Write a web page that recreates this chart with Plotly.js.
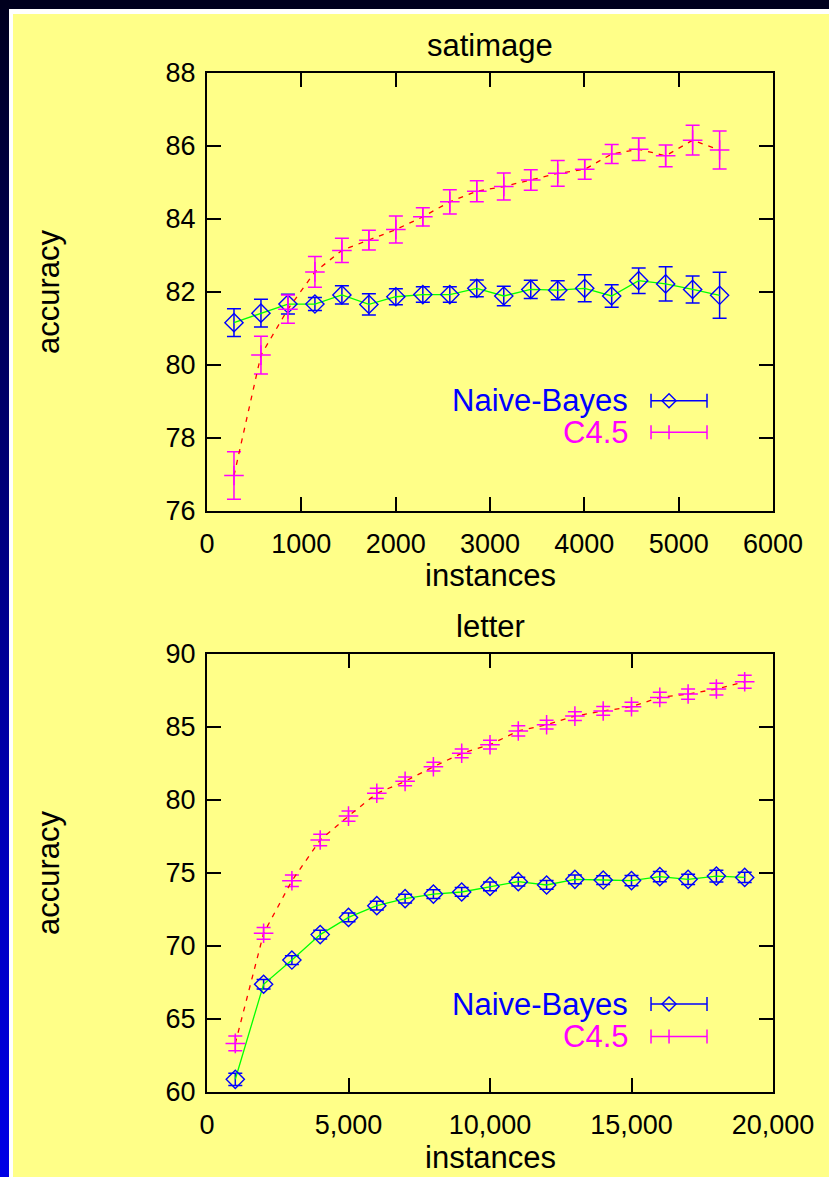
<!DOCTYPE html>
<html>
<head>
<meta charset="utf-8">
<script src="https://cdn.plot.ly/plotly-3.0.1.min.js"></script>
<style>
  html, body { margin:0; padding:0; width:829px; height:1177px; overflow:hidden; background:#000028; }
  #bg { position:absolute; left:0; top:0; width:829px; height:1177px;
        background: linear-gradient(to bottom, #00001e 0%, #000060 30%, #00008a 50%, #0000c0 75%, #0000e6 100%); }
  #topbar { position:absolute; left:0; top:0; width:829px; height:9px; background:#00001e; }
  #frame { position:absolute; left:9px; top:9px; width:820px; height:1168px; background:#ffffff; }
  #plot { position:absolute; left:13px; top:14px; width:816px; height:1163px; }
</style>
</head>
<body>
<div id="bg"></div>
<div id="topbar"></div>
<div id="frame"></div>
<div id="plot"></div>
<script>
// ---- satimage ----
const satX = [286, 572, 858, 1144, 1430, 1716, 2002, 2288, 2574, 2860, 3146, 3432, 3718, 4004, 4290, 4576, 4862, 5148, 5434];
const satNB = [81.16, 81.42, 81.67, 81.67, 81.92, 81.66, 81.87, 81.93, 81.93, 82.10, 81.89, 82.07, 82.05, 82.10, 81.89, 82.31, 82.22, 82.07, 81.91];
const satNBerr = [0.38, 0.38, 0.27, 0.18, 0.25, 0.29, 0.22, 0.21, 0.21, 0.23, 0.27, 0.25, 0.26, 0.37, 0.31, 0.35, 0.47, 0.37, 0.63];
const satC45 = [76.97, 80.27, 81.53, 82.55, 83.14, 83.42, 83.71, 84.06, 84.47, 84.76, 84.89, 85.07, 85.25, 85.36, 85.78, 85.91, 85.73, 86.16, 85.89];
const satC45err = [0.65, 0.52, 0.39, 0.42, 0.33, 0.27, 0.37, 0.25, 0.33, 0.29, 0.37, 0.28, 0.35, 0.27, 0.26, 0.31, 0.30, 0.41, 0.52];

// ---- letter ----
const letX = [1000, 2000, 3000, 4000, 5000, 6000, 7000, 8000, 9000, 10000, 11000, 12000, 13000, 14000, 15000, 16000, 17000, 18000, 19000];
const letNB = [60.87, 67.38, 69.04, 70.78, 71.96, 72.76, 73.24, 73.56, 73.70, 74.08, 74.41, 74.18, 74.57, 74.52, 74.48, 74.75, 74.57, 74.79, 74.70];
const letNBerr = [0.42, 0.32, 0.3, 0.3, 0.3, 0.3, 0.3, 0.3, 0.3, 0.3, 0.3, 0.3, 0.3, 0.3, 0.35, 0.35, 0.35, 0.4, 0.35];
const letC45 = [63.33, 70.87, 74.47, 77.26, 78.90, 80.46, 81.28, 82.28, 83.20, 83.79, 84.73, 85.16, 85.75, 86.10, 86.39, 87.03, 87.26, 87.60, 88.10];
const letC45err = [0.5, 0.4, 0.4, 0.4, 0.35, 0.35, 0.3, 0.3, 0.3, 0.3, 0.35, 0.3, 0.3, 0.3, 0.3, 0.35, 0.35, 0.4, 0.45];

const seriesNames = ['Naive-Bayes', 'C4.5'];
const titles = ['satimage', 'letter'];
const xTitle = 'instances';
const yTitle = 'accuracy';

const BLUE = '#0000ff', MAG = '#ff00ff', GREEN = '#00ff00', RED = '#ff0000';
const FONT = '"Liberation Sans", Arial, Helvetica, sans-serif';
const TXT = 31;

function nbTrace(x, y, e, xa, ya) {
  return { x: x, y: y, xaxis: xa, yaxis: ya, type: 'scatter', mode: 'lines+markers', name: seriesNames[0],
    showlegend: false,
    line: { color: GREEN, width: 1.3 },
    marker: { symbol: 'diamond-open', size: 14, color: BLUE, line: { color: BLUE, width: 1.4 } },
    error_y: { type: 'data', array: e, visible: true, color: BLUE, thickness: 1.5, width: 7 } };
}
function c45Trace(x, y, e, xa, ya) {
  return { x: x, y: y, xaxis: xa, yaxis: ya, type: 'scatter', mode: 'lines+markers', name: seriesNames[1],
    showlegend: false,
    line: { color: RED, width: 1.3, dash: '5px,6px' },
    marker: { symbol: 'cross-thin-open', size: 14, color: MAG, line: { color: MAG, width: 1.5 } },
    error_y: { type: 'data', array: e, visible: true, color: MAG, thickness: 1.5, width: 7 } };
}

const data = [
  nbTrace(satX, satNB, satNBerr, 'x', 'y'),
  c45Trace(satX, satC45, satC45err, 'x', 'y'),
  nbTrace(letX, letNB, letNBerr, 'x2', 'y2'),
  c45Trace(letX, letC45, letC45err, 'x2', 'y2')
];

function axisBase() {
  return { showline: true, linecolor: '#000', linewidth: 2, mirror: 'ticks', ticks: 'inside',
    ticklen: 14, tickwidth: 2, tickcolor: '#000', showgrid: false, zeroline: false,
    tickfont: { family: FONT, size: 27, color: '#000' } };
}

const layout = {
  width: 816, height: 1163,
  paper_bgcolor: '#ffff88', plot_bgcolor: '#ffff88',
  margin: { l: 194, r: 56, t: 59, b: 85 },
  showlegend: false,
  font: { family: FONT, color: '#000' },
  xaxis: Object.assign(axisBase(), { domain: [0, 1], range: [0, 6000], tickvals: [0,1000,2000,3000,4000,5000,6000], tickformat: 'd', anchor: 'y',
    ticklabelstandoff: 8 }),
  yaxis: Object.assign(axisBase(), { domain: [0.5702, 1], range: [76, 88], tickvals: [76,78,80,82,84,86,88], anchor: 'x',
    ticklabelstandoff: 4,
    title: { text: yTitle, font: { family: FONT, size: TXT }, standoff: 97 } }),
  xaxis2: Object.assign(axisBase(), { domain: [0, 1], range: [0, 20000], tickvals: [0,5000,10000,15000,20000], tickformat: ',d', anchor: 'y2',
    ticklabelstandoff: 8 }),
  yaxis2: Object.assign(axisBase(), { domain: [0, 0.4298], range: [60, 90], tickvals: [60,65,70,75,80,85,90], anchor: 'x2',
    ticklabelstandoff: 4,
    title: { text: yTitle, font: { family: FONT, size: TXT }, standoff: 97 } }),
  annotations: [],
  shapes: []
};

// subplot titles and x-axis titles
[['x', 'y'], ['x2', 'y2']].forEach(function (ax, i) {
  layout.annotations.push({ text: titles[i], xref: ax[0] + ' domain', yref: ax[1] + ' domain', x: 0.5, y: 1, yshift: 8,
    xanchor: 'center', yanchor: 'bottom', showarrow: false, font: { family: FONT, size: TXT, color: '#000' } });
  layout.annotations.push({ text: xTitle, xref: ax[0] + ' domain', yref: ax[1] + ' domain', x: 0.5, y: 0, yshift: -65,
    xanchor: 'center', yanchor: 'middle', showarrow: false, font: { family: FONT, size: TXT, color: '#000' } });
});

// legends (text left, sample right) inside each plot
const legendY = [[0.2518, 0.1797], [0.2009, 0.1265]];
[['x', 'y'], ['x2', 'y2']].forEach(function (ax, i) {
  const xr = ax[0] + ' domain', yr = ax[1] + ' domain';
  const cols = [BLUE, MAG];
  for (let k = 0; k < 2; k++) {
    const yy = legendY[i][k];
    layout.annotations.push({ text: seriesNames[k], xref: xr, yref: yr, x: 0.7473, y: yy, xanchor: 'right', yanchor: 'middle',
      showarrow: false, font: { family: FONT, size: TXT, color: cols[k] } });
    layout.shapes.push({ type: 'line', xref: xr, yref: yr, x0: 0.7845, x1: 0.8834, y0: yy, y1: yy, line: { color: cols[k], width: 1.5 } });
    [0.7845, 0.8834].forEach(function (xc) {
      layout.shapes.push({ type: 'line', xref: xr, yref: yr, ysizemode: 'pixel', yanchor: yy, x0: xc, x1: xc, y0: -7, y1: 7, line: { color: cols[k], width: 1.5 } });
    });
    if (k === 0) {
      layout.shapes.push({ type: 'path', xref: xr, yref: yr, xsizemode: 'pixel', ysizemode: 'pixel', xanchor: 0.8163, yanchor: yy,
        path: 'M -7 0 L 0 7 L 7 0 L 0 -7 Z', line: { color: BLUE, width: 1.4 } });
    } else {
      layout.shapes.push({ type: 'line', xref: xr, yref: yr, ysizemode: 'pixel', yanchor: yy, x0: 0.8163, x1: 0.8163, y0: -7, y1: 7, line: { color: MAG, width: 1.5 } });
    }
  }
});

Plotly.newPlot('plot', data, layout, { displayModeBar: false, staticPlot: true });
</script>
</body>
</html>
